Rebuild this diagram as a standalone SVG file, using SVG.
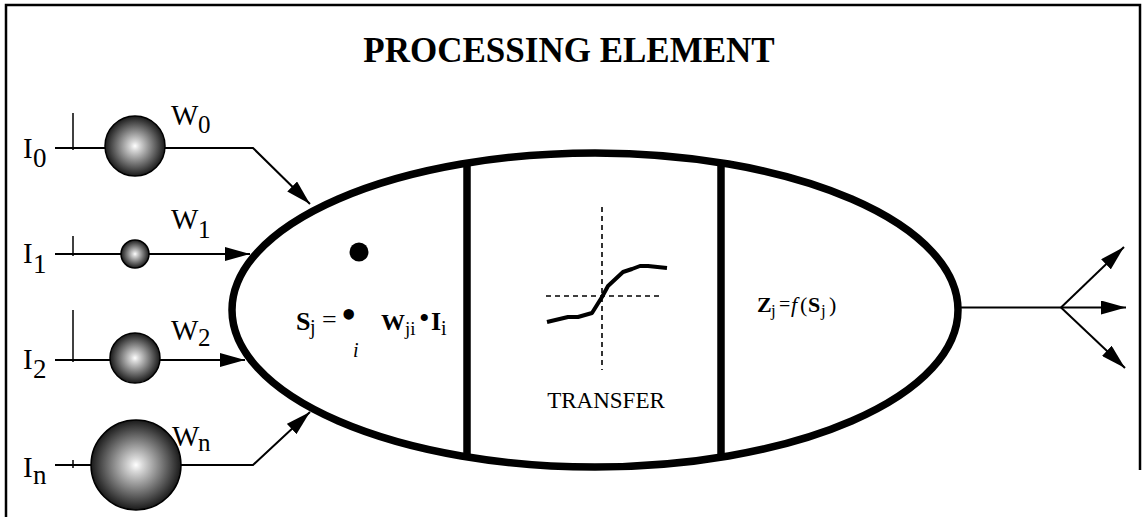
<svg xmlns="http://www.w3.org/2000/svg" width="1144" height="527" viewBox="0 0 1144 527">
<style>
.ln{stroke:#000;stroke-width:2;fill:none}
.tk{stroke:#000;stroke-width:1.5;fill:none}
.sp{stroke:#000;stroke-width:1.5}
.t{font-family:"Liberation Serif","Times New Roman",serif;fill:#000}
.b{font-weight:bold}
.it{font-style:italic}
.dash{stroke:#000;stroke-width:1.6;stroke-dasharray:5,4;fill:none}
</style>
<defs>
<radialGradient id="g" cx="50%" cy="50%" r="50%">
<stop offset="0" stop-color="#ffffff"/>
<stop offset="0.15" stop-color="#d8d8d8"/>
<stop offset="0.6" stop-color="#737373"/>
<stop offset="1" stop-color="#1a1a1a"/>
</radialGradient>
<marker id="ah" markerWidth="25" markerHeight="14" refX="25" refY="7" orient="auto" markerUnits="userSpaceOnUse">
<path d="M0,0 L25,7 L0,14 z" fill="#000"/>
</marker>
</defs>
<rect width="1144" height="527" fill="#fff"/>
<g id="frame">
<path d="M6,517 L6,5 L1140,5 L1140,470" fill="none" stroke="#000" stroke-width="2.5"/>
</g>
<g id="title">
<text class="t b" x="569" y="62" font-size="35" text-anchor="middle">PROCESSING ELEMENT</text>
</g>
<g id="connectors">
<line class="ln" x1="55" y1="148" x2="105" y2="148"/>
<line class="tk" x1="73" y1="113" x2="73" y2="150"/>
<polyline class="ln" points="165,148 253,148 310,204" marker-end="url(#ah)"/>
<line class="ln" x1="55" y1="254" x2="121" y2="254"/>
<line class="tk" x1="73" y1="236" x2="73" y2="256"/>
<line class="ln" x1="149" y1="254" x2="250" y2="254" marker-end="url(#ah)"/>
<line class="ln" x1="55" y1="360" x2="110" y2="360"/>
<line class="tk" x1="73" y1="310" x2="73" y2="362"/>
<line class="ln" x1="160" y1="360" x2="245" y2="360" marker-end="url(#ah)"/>
<line class="ln" x1="55" y1="465" x2="91" y2="465"/>
<line class="tk" x1="73" y1="460" x2="73" y2="468"/>
<polyline class="ln" points="181,465 253,465 310,412" marker-end="url(#ah)"/>
<line class="ln" x1="958" y1="307.5" x2="1061" y2="307.5"/>
<line class="ln" x1="1061" y1="307.5" x2="1126" y2="307.5" marker-end="url(#ah)"/>
<line class="ln" x1="1061" y1="307.5" x2="1124" y2="247" marker-end="url(#ah)"/>
<line class="ln" x1="1061" y1="307.5" x2="1125" y2="368" marker-end="url(#ah)"/>
</g>
<g id="input0">
<circle class="sp" cx="135" cy="146" r="30" fill="url(#g)"/>
<text class="t" x="23" y="158" font-size="29">I</text>
<text class="t" x="33" y="167" font-size="27">0</text>
<text class="t" x="171" y="125" font-size="29">W</text>
<text class="t" x="198" y="133" font-size="25">0</text>
</g>
<g id="input1">
<circle class="sp" cx="135" cy="254" r="14" fill="url(#g)"/>
<text class="t" x="23" y="263" font-size="29">I</text>
<text class="t" x="33" y="273" font-size="27">1</text>
<text class="t" x="171" y="229" font-size="29">W</text>
<text class="t" x="198" y="238" font-size="25">1</text>
</g>
<g id="input2">
<circle class="sp" cx="135" cy="358" r="25" fill="url(#g)"/>
<text class="t" x="23" y="369" font-size="29">I</text>
<text class="t" x="33" y="378" font-size="27">2</text>
<text class="t" x="171" y="340" font-size="29">W</text>
<text class="t" x="198" y="346" font-size="25">2</text>
</g>
<g id="inputn">
<circle class="sp" cx="136" cy="465" r="45" fill="url(#g)"/>
<text class="t" x="23" y="477" font-size="29">I</text>
<text class="t" x="33" y="484" font-size="27">n</text>
<text class="t" x="172" y="446" font-size="29">W</text>
<text class="t" x="198" y="451" font-size="25">n</text>
</g>
<g id="element">
<ellipse cx="595" cy="310" rx="363" ry="157" fill="none" stroke="#000" stroke-width="7.5"/>
<line x1="467" y1="160" x2="467" y2="456" stroke="#000" stroke-width="7.5"/>
<line x1="721" y1="160" x2="721" y2="456" stroke="#000" stroke-width="7.5"/>
</g>
<g id="summation">
<circle cx="359" cy="252" r="9.5" fill="#000"/>
<text class="t b" x="296" y="330" font-size="26">S</text>
<text class="t" x="310" y="334" font-size="20">j</text>
<text class="t" x="322" y="328" font-size="26">=</text>
<text class="t" x="341" y="329" font-size="44">•</text>
<text class="t it" x="353" y="357" font-size="20">i</text>
<text class="t b" x="381" y="330" font-size="24">W</text>
<text class="t" x="405" y="335" font-size="19">ji</text>
<text class="t" x="419" y="328" font-size="30">•</text>
<text class="t b" x="431" y="330" font-size="26">I</text>
<text class="t" x="441" y="335" font-size="20">i</text>
</g>
<g id="transfer">
<line class="dash" x1="602" y1="207" x2="602" y2="370"/>
<line class="dash" x1="546" y1="296" x2="662" y2="296"/>
<polyline points="547,322 568,317 578,317 592,313 602,297 608,286 623,272 632,269 640,266 648,266 667,268" fill="none" stroke="#000" stroke-width="4" stroke-linejoin="round"/>
<text class="t" x="606" y="408" font-size="23" text-anchor="middle">TRANSFER</text>
</g>
<g id="output">
<text class="t b" x="757" y="312" font-size="22">Z</text>
<text class="t" x="771" y="316" font-size="17">j</text>
<text class="t" x="779" y="311" font-size="20">=</text>
<text class="t it" x="791" y="312" font-size="22">f</text>
<text class="t" x="800" y="312" font-size="22">(</text>
<text class="t b" x="808" y="312" font-size="22">S</text>
<text class="t" x="821" y="316" font-size="17">j</text>
<text class="t" x="829" y="312" font-size="22">)</text>
</g>
</svg>
